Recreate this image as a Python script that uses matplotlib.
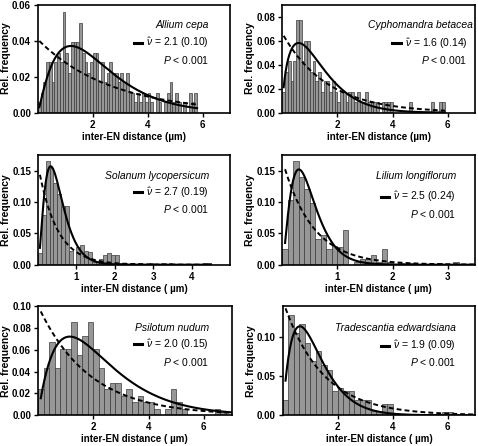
import numpy as np
import matplotlib
matplotlib.use("Agg")
import matplotlib.pyplot as plt
from matplotlib.lines import Line2D
from matplotlib.ticker import FormatStrFormatter

plt.rcParams['font.family'] = ['Liberation Sans', 'DejaVu Sans']
plt.rcParams['mathtext.fontset'] = 'custom'
plt.rcParams['mathtext.rm'] = 'Liberation Sans'
plt.rcParams['mathtext.it'] = 'Liberation Sans:italic'

# ---- data ----
species = ["Allium cepa", "Cyphomandra betacea", "Solanum lycopersicum",
           "Lilium longiflorum", "Psilotum nudum", "Tradescantia edwardsiana"]
nu_text = ["2.1 (0.10)", "1.6 (0.14)", "2.7 (0.19)", "2.5 (0.24)", "2.0 (0.15)", "1.9 (0.09)"]
bin_width = [0.1, 0.1, 0.1, 0.1, 0.2, 0.2]

allium = [0.006, 0.011, 0.017, 0.028, 0.028, 0.017, 0.028, 0.033, 0.028, 0.056,
          0.033, 0.022, 0.039, 0.039, 0.039, 0.050, 0.033, 0.028, 0.022, 0.028,
          0.033, 0.033, 0.017, 0.028, 0.017, 0.022, 0.028, 0.022, 0.022, 0.017,
          0.022, 0.017, 0.022, 0.011, 0.011, 0.006, 0.011, 0.006, 0.011, 0.006,
          0.011, 0.006, 0.0, 0.011, 0.006, 0.0, 0.006, 0.011, 0.017, 0.006,
          0.011, 0.006, 0.0, 0.006, 0.0, 0.011, 0.006, 0.011]
cypho = [0.017, 0.034, 0.043, 0.026, 0.043, 0.077, 0.077, 0.043, 0.060, 0.060,
         0.034, 0.043, 0.026, 0.034, 0.017, 0.026, 0.026, 0.017, 0.026, 0.017,
         0.009, 0.017, 0.017, 0.009, 0.017, 0.017, 0.009, 0.017, 0.009, 0.009,
         0.017, 0.009, 0.009, 0.009, 0.009, 0.0, 0.009, 0.009, 0.009, 0.009,
         0.0, 0.0, 0.0, 0.0, 0.0, 0.0, 0.009, 0.0, 0.0, 0.0,
         0.0, 0.0, 0.0, 0.0, 0.009, 0.0, 0.0, 0.009, 0.009]
solanum = [0.019, 0.080, 0.166, 0.155, 0.130, 0.112, 0.093, 0.093, 0.022, 0.0,
           0.028, 0.032, 0.022, 0.020, 0.005, 0.005, 0.009, 0.015, 0.019, 0.016,
           0.016, 0.003, 0.002, 0.0, 0.002, 0.0, 0.002, 0.0, 0.0, 0.002,
           0.0, 0.0, 0.002, 0.0, 0.002, 0.0, 0.0, 0.0, 0.0, 0.0,
           0.0, 0.0, 0.0, 0.003, 0.003]
lilium = [0.025, 0.103, 0.165, 0.140, 0.120, 0.098, 0.041, 0.047, 0.025, 0.030,
          0.028, 0.056, 0.0, 0.005, 0.009, 0.009, 0.015, 0.005, 0.025, 0.005,
          0.0, 0.003, 0.0, 0.003, 0.0, 0.0, 0.0, 0.0, 0.003, 0.0,
          0.0, 0.004]
psilotum = [0.024, 0.043, 0.067, 0.043, 0.061, 0.061, 0.085, 0.055, 0.073, 0.085,
            0.061, 0.043, 0.024, 0.030, 0.030, 0.018, 0.024, 0.012, 0.018, 0.012,
            0.012, 0.006, 0.0, 0.006, 0.024, 0.012, 0.006, 0.0, 0.0, 0.0,
            0.0, 0.0, 0.006, 0.003]
trades = [0.019, 0.128, 0.105, 0.117, 0.093, 0.070, 0.082, 0.064, 0.058, 0.031,
          0.035, 0.031, 0.031, 0.020, 0.020, 0.020, 0.005, 0.005, 0.014, 0.014,
          0.002, 0.002, 0.002, 0.002, 0.002, 0.002, 0.002, 0.0, 0.0, 0.004, 0.004]
heights = [allium, cypho, solanum, lilium, psilotum, trades]

# fitted curve (solid): shape nu, peak position, peak height, tail factor
solid_nu = [2.1, 1.6, 2.7, 2.5, 2.0, 1.9]
solid_peak_x = [1.2, 0.59, 0.33, 0.30, 1.15, 0.62]
solid_peak_y = [0.037, 0.058, 0.157, 0.152, 0.072, 0.114]
solid_tail = [1.05, 1.2, 1.0, 1.05, 1.0, 1.12]
# exponential (dashed): value at 0 and mean
dash_a = [0.0405, 0.066, 0.159, 0.167, 0.1003, 0.147]
dash_mu = [2.65, 1.62, 0.484, 0.542, 1.85, 1.42]
curve_end = [5.8, 5.9, 4.5, 3.5, 7.0, 7.0]

xlims = [7, 7, 5, 3.5, 7, 7]
xticks = [[2, 4, 6], [2, 4, 6], [1, 2, 3, 4], [1, 2, 3], [2, 4, 6], [2, 4, 6]]
ylims = [0.06, 0.09, 0.175, 0.175, 0.10, 0.14]
yticks = [[0, 0.02, 0.04, 0.06], [0, 0.02, 0.04, 0.06, 0.08], [0, 0.05, 0.10, 0.15],
          [0, 0.05, 0.10, 0.15], [0, 0.02, 0.04, 0.06, 0.08, 0.10], [0, 0.05, 0.10]]
xlabels = ["inter-EN distance (\u00b5m)"] * 2 + ["inter-EN distance ( \u00b5m)"] * 4

# ---- layout (pixel boxes: left, top, right, bottom) ----
W, H = 478, 446
boxes = [(38, 4.5, 230, 112.7), (282.3, 4.5, 475.3, 112.7),
         (38, 155, 230, 264.7), (282.3, 155, 475.3, 264.7),
         (38, 306, 231.5, 415.3), (282.8, 306, 475.3, 415.3)]
txt_x = [0.89, 0.985, 0.89, 0.90, 0.885, 0.90]
leg_x = [0.89, 0.96, 0.89, 0.90, 0.885, 0.90]
txt_y = [(0.81, 0.645, 0.49), (0.81, 0.64, 0.49), (0.81, 0.66, 0.51),
         (0.806, 0.617, 0.465), (0.80, 0.65, 0.49), (0.80, 0.634, 0.488)]

fig = plt.figure(figsize=(W / 100, H / 100), dpi=100)

for i in range(6):
    l, t, r, b = boxes[i]
    ax = fig.add_axes([l / W, 1 - b / H, (r - l) / W, (b - t) / H])
    w = bin_width[i]
    h = np.array(heights[i])
    edges = np.arange(len(h)) * w
    ax.bar(edges, h, width=w, align='edge', color='#979797',
           edgecolor='#3a3a3a', linewidth=0.5, zorder=1)

    x = np.linspace(w / 2, curve_end[i], 400)
    a = solid_nu[i] - 1
    bb = solid_tail[i]
    rr = x / solid_peak_x[i]
    y_solid = solid_peak_y[i] * rr ** a * np.exp(-(a / bb) * (rr ** bb - 1))
    y_dash = dash_a[i] * np.exp(-x / dash_mu[i])
    ax.plot(x, y_solid, color='black', lw=1.5, zorder=3)
    ax.plot(x, y_dash, color='black', lw=1.4, ls=(0, (2.5, 1.6)), zorder=3)

    ax.set_xlim(0, xlims[i])
    ax.set_ylim(0, ylims[i])
    ax.set_xticks(xticks[i])
    ax.set_yticks(yticks[i])
    ax.yaxis.set_major_formatter(FormatStrFormatter('%.2f'))
    ax.tick_params(direction='out', length=3, width=1, labelsize=7, pad=2)
    for lab in ax.get_xticklabels() + ax.get_yticklabels():
        lab.set_fontweight('bold')
    for s in ax.spines.values():
        s.set_linewidth(1.2)
    ax.set_ylabel("Rel. frequency", fontsize=7.5, fontweight='bold', labelpad=1)
    ax.set_xlabel(xlabels[i], fontsize=7, fontweight='bold', labelpad=1.5)

    ys, yl, yp = txt_y[i]
    ax.text(txt_x[i], ys, species[i], transform=ax.transAxes, ha='right',
            va='center', style='italic', fontsize=7.5)
    ax.legend(handles=[Line2D([0], [0], color='black', lw=2.2)],
              labels=[r'$\hat{\nu}$ = ' + nu_text[i]], loc='center right',
              bbox_to_anchor=(leg_x[i], yl), bbox_transform=ax.transAxes,
              frameon=False, fontsize=7.5, handlelength=0.8, handletextpad=0.4,
              borderpad=0, borderaxespad=0)
    ax.text(leg_x[i], yp, r'$P$ < 0.001', transform=ax.transAxes, ha='right',
            va='center', fontsize=7.5)

fig.savefig("out.png", dpi=100)
